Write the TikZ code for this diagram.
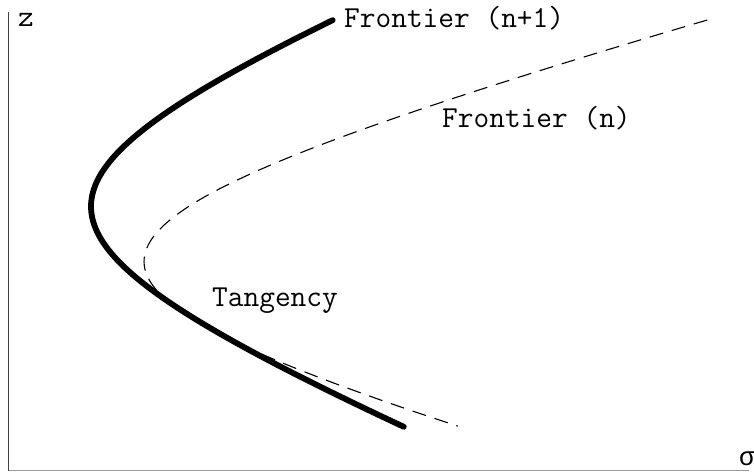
\documentclass[tikz,border=0pt]{standalone}
\usepackage{fontspec}
\newfontfamily\courfont{Liberation Mono}
\begin{document}
\begin{tikzpicture}[x=1pt,y=1pt,
  lbl/.style={inner sep=0pt,anchor=base west,font=\ttfamily\fontsize{30.5}{34}\selectfont},
  frontsolid/.style={line width=5.8pt,line cap=round},
  frontdash/.style={line width=1.1pt,dash pattern=on 14pt off 9pt}]
\useasboundingbox (0,0) rectangle (754,472);
% axes
\coordinate (top) at (8.5,460);
\coordinate (orig) at (8.5,1.5);
\coordinate (right) at (749,1.5);
\draw[black!75,line width=1pt] (top) -- (orig);
\draw[black!40,line width=1pt] (orig) -- (right);
% frontier (n) dashed
\draw[frontdash] plot[domain=-1.4242:1.0994,samples=160,variable=\t]
  ({-326.3+470.3*cosh(\t)},{210.5-123.4*sinh(\t)});
% frontier (n+1) solid
\draw[frontsolid] plot[domain=-1.156:1.2975,samples=160,variable=\t]
  ({-233+324*cosh(\t)},{265.5-130.2*sinh(\t)});
% labels
\node[lbl] (zlab) at (18,445) {z};
\node[lbl] (fn1) at (344,444) {Frontier (n+1)};
\node[lbl] (fn) at (442,344) {Frontier (n)};
\node[lbl] (tang) at (212,165.5) {Tangency};
\node[lbl,font=\courfont\fontsize{26}{30}\selectfont] (sig) at (739,7) {σ};
\end{tikzpicture}
\end{document}
